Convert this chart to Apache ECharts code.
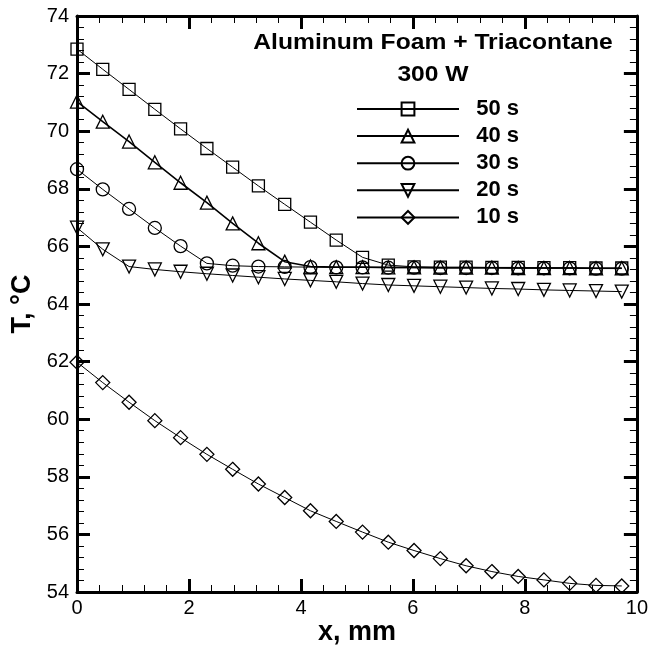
<!DOCTYPE html>
<html>
<head>
<meta charset="utf-8">
<script src="https://cdn.jsdelivr.net/npm/echarts@6/dist/echarts.min.js"></script>
<style>html,body{margin:0;padding:0;background:#fff;}#c{width:651px;height:650px;}</style>
</head>
<body>
<div id="c"></div>
<script>
const xValues = [0, 0.46, 0.93, 1.39, 1.85, 2.32, 2.78, 3.24, 3.71, 4.17, 4.63, 5.10, 5.56, 6.02, 6.49, 6.95, 7.41, 7.88, 8.34, 8.80, 9.27, 9.73];
const t50 = [72.85, 72.15, 71.45, 70.76, 70.08, 69.40, 68.75, 68.10, 67.46, 66.84, 66.22, 65.62, 65.35, 65.29, 65.28, 65.28, 65.27, 65.27, 65.26, 65.26, 65.25, 65.25];
const t40 = [71.03, 70.33, 69.64, 68.92, 68.21, 67.52, 66.80, 66.11, 65.47, 65.30, 65.28, 65.28, 65.27, 65.27, 65.26, 65.26, 65.26, 65.25, 65.25, 65.25, 65.24, 65.24];
const t30 = [68.68, 67.98, 67.30, 66.64, 66.01, 65.41, 65.33, 65.30, 65.29, 65.28, 65.27, 65.27, 65.26, 65.26, 65.25, 65.25, 65.25, 65.24, 65.24, 65.24, 65.23, 65.23];
const t20 = [66.65, 65.90, 65.30, 65.20, 65.12, 65.05, 64.99, 64.93, 64.87, 64.82, 64.77, 64.71, 64.66, 64.63, 64.60, 64.57, 64.54, 64.52, 64.49, 64.47, 64.45, 64.43];
const t10 = [61.98, 61.27, 60.59, 59.95, 59.36, 58.78, 58.26, 57.75, 57.28, 56.82, 56.45, 56.08, 55.73, 55.44, 55.16, 54.91, 54.71, 54.54, 54.42, 54.30, 54.23, 54.21];
const seriesNames = ['50 s', '40 s', '30 s', '20 s', '10 s'];
const titleLines = ['Aluminum Foam + Triacontane', '300 W'];
const xName = 'x, mm';
const yName = 'T, \u00B0C';

const FONT = '"Liberation Sans", Arial, Helvetica, sans-serif';
const chart = echarts.init(document.getElementById('c'), null, {renderer: 'canvas'});

function zip(ys) { return xValues.map((x, i) => [x, ys[i]]); }

const styles = [
  {data: t50, symbol: 'rect', rot: 0, size: 12, lw: 1},
  {data: t40, symbol: 'triangle', rot: 0, size: 13, lw: 1.6},
  {data: t30, symbol: 'circle', rot: 0, size: 13, lw: 1},
  {data: t20, symbol: 'triangle', rot: 180, size: 13, lw: 1},
  {data: t10, symbol: 'diamond', rot: 0, size: 14, lw: 1}
];

const series = styles.map((s, i) => ({
  name: seriesNames[i],
  type: 'line',
  data: zip(s.data),
  symbol: s.symbol,
  symbolRotate: s.rot,
  symbolSize: s.size,
  showAllSymbol: true,
  clip: false,
  lineStyle: {color: '#000', width: s.lw},
  itemStyle: {color: 'rgba(255,255,255,0)', borderColor: '#000', borderWidth: 1.3},
  emphasis: {disabled: true},
  z: 2 + i
}));

const axisCommon = {
  type: 'value',
  interval: 2,
  axisLine: {show: true, onZero: false, lineStyle: {color: '#000', width: 3}},
  axisTick: {show: true, inside: true, length: 13, lineStyle: {color: '#000', width: 3}},
  minorTick: {show: true, splitNumber: 5, length: 7, lineStyle: {color: '#000', width: 1}},
  splitLine: {show: false},
  minorSplitLine: {show: false}
};

const option = {
  animation: false,
  backgroundColor: '#fff',
  grid: {left: 77, right: 13, top: 16, bottom: 58, containLabel: false},
  xAxis: [
    Object.assign({}, axisCommon, {min: 0, max: 10, position: 'bottom',
      axisLabel: {show: true, color: '#000', fontSize: 20, fontFamily: FONT, margin: 6}}),
    Object.assign({}, axisCommon, {min: 0, max: 10, position: 'top', axisLabel: {show: false}})
  ],
  yAxis: [
    Object.assign({}, axisCommon, {min: 54, max: 74, position: 'left',
      axisLabel: {show: true, color: '#000', fontSize: 20, fontFamily: FONT, margin: 8}}),
    Object.assign({}, axisCommon, {min: 54, max: 74, position: 'right', axisLabel: {show: false}})
  ],
  legend: {
    orient: 'vertical',
    left: 356,
    top: 98,
    padding: 0,
    itemWidth: 102,
    itemHeight: 16,
    itemGap: 5.1,
    data: seriesNames,
    formatter: n => '  ' + n,
    textStyle: {color: '#000', fontSize: 22, fontWeight: 'bold', fontFamily: FONT},
    selectedMode: false
  },
  graphic: [
    {type: 'text', x: 433, y: 43, scaleX: 1.12, silent: true,
      style: {text: titleLines[0], x: 0, y: 0, align: 'center', verticalAlign: 'middle',
        fill: '#000', font: 'bold 22px ' + FONT}},
    {type: 'text', x: 433, y: 75, scaleX: 1.12, silent: true,
      style: {text: titleLines[1], x: 0, y: 0, align: 'center', verticalAlign: 'middle',
        fill: '#000', font: 'bold 22px ' + FONT}},
    {type: 'text', x: 357, y: 633, silent: true,
      style: {text: xName, x: 0, y: 0, align: 'center', verticalAlign: 'middle',
        fill: '#000', font: 'bold 27px ' + FONT}},
    {type: 'text', x: 23, y: 304, rotation: Math.PI / 2, silent: true,
      style: {text: yName, x: 0, y: 0, align: 'center', verticalAlign: 'middle',
        fill: '#000', font: 'bold 27px ' + FONT}}
  ],
  series: series
};
chart.setOption(option);
</script>
</body>
</html>
